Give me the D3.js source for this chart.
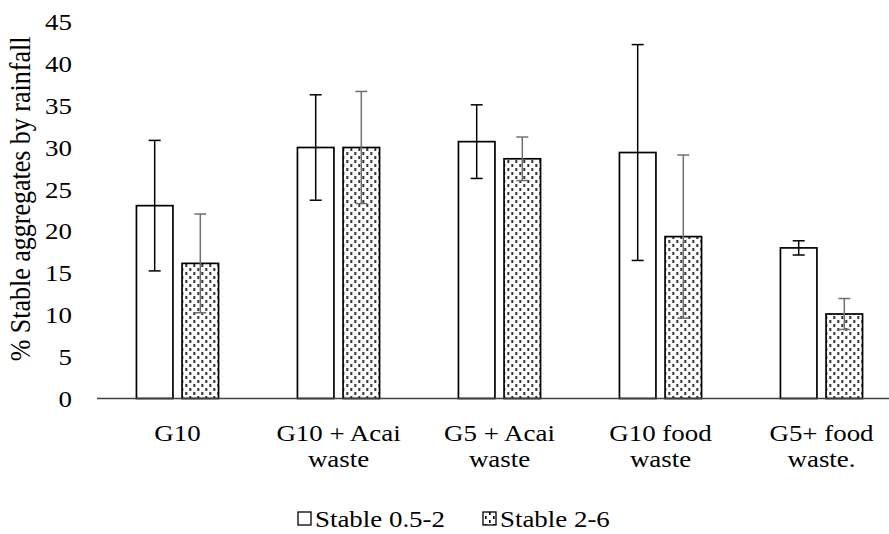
<!DOCTYPE html>
<html><head><meta charset="utf-8">
<script src="https://cdn.jsdelivr.net/npm/d3@7"></script>
<style>html,body{margin:0;padding:0;background:#fff;}svg{display:block;}
svg text{font-family:"Liberation Serif","Times New Roman",Times,Tinos,"DejaVu Serif","Noto Serif",serif !important;fill:#000;}</style>
</head><body>
<svg id="chart" width="889" height="534"></svg>
<script>
const categories = [["G10"], ["G10 + Acai", "waste"], ["G5 + Acai", "waste"], ["G10 food", "waste"], ["G5+ food", "waste."]];
const seriesNames = ["Stable 0.5-2", "Stable 2-6"];
const stable052 = [23.05, 30.0, 30.7, 29.4, 18.0];
const stable052Err = [7.8, 6.3, 4.4, 12.9, 0.85];
const stable26 = [16.15, 30.0, 28.65, 19.35, 10.1];
const stable26Err = [5.9, 6.7, 2.6, 9.75, 1.85];
const yTicks = [0, 5, 10, 15, 20, 25, 30, 35, 40, 45];

const svg = d3.select("#chart");
const defs = svg.append("defs");
const pat = defs.append("pattern").attr("id", "dots").attr("patternUnits", "userSpaceOnUse")
  .attr("width", 8).attr("height", 8);
pat.append("rect").attr("width", 8).attr("height", 8).attr("fill", "#fff");
pat.append("rect").attr("x", 1).attr("y", 0).attr("width", 1.6).attr("height", 3).attr("fill", "#000");
pat.append("rect").attr("x", 5).attr("y", 4).attr("width", 1.6).attr("height", 3).attr("fill", "#000");

const fills = ["#fff", "url(#dots)"];
const errColors = ["#000", "#707070"];

const catIdx = categories.map((c, i) => i);
const x0 = d3.scaleBand().domain(catIdx).range([97, 902]).paddingInner(0.49).paddingOuter(0.245);
const x1 = d3.scaleBand().domain([0, 1]).range([0, x0.bandwidth()]).paddingInner(0.2);
const y = d3.scaleLinear().domain([0, 45]).range([398.5, 22]);

const FS = 23;
const SX = 1.17;

// y axis labels
const yAxis = d3.axisLeft(y).tickValues(yTicks).tickSize(0).tickPadding(0);
const gy = svg.append("g").attr("transform", "translate(72,0)").call(yAxis);
gy.select(".domain").remove();
gy.selectAll(".tick text").attr("font-size", FS).attr("x", 0).attr("dy", "0.34em")
  .attr("transform", `scale(${SX},1)`);

// y title
svg.append("text").attr("transform", `translate(30,199) scale(${SX},1) rotate(-90)`).attr("text-anchor", "middle")
  .attr("font-size", 26).text("% Stable aggregates by rainfall");

const data = categories.map((c, i) => ({i, vals: [stable052[i], stable26[i]], errs: [stable052Err[i], stable26Err[i]]}));

const groups = svg.append("g").selectAll("g").data(data).join("g")
  .attr("transform", d => `translate(${x0(d.i)},0)`);

groups.selectAll("rect").data(d => d.vals.map((v, s) => ({v, s}))).join("rect")
  .attr("x", d => x1(d.s)).attr("width", x1.bandwidth())
  .attr("y", d => y(d.v)).attr("height", d => y(0) - y(d.v))
  .attr("fill", d => fills[d.s]).attr("stroke", "#000").attr("stroke-width", 1.7);

// x axis line
svg.append("line").attr("x1", 97).attr("x2", 889).attr("y1", y(0)).attr("y2", y(0))
  .attr("stroke", "#404040").attr("stroke-width", 1.3);

// error bars
const eb = groups.selectAll("g.err").data(d => d.vals.map((v, s) => ({v, s, e: d.errs[s]}))).join("g").attr("class", "err");
eb.append("line").attr("x1", d => x1(d.s) + x1.bandwidth() / 2).attr("x2", d => x1(d.s) + x1.bandwidth() / 2)
  .attr("y1", d => y(d.v + d.e)).attr("y2", d => y(d.v - d.e))
  .attr("stroke", d => errColors[d.s]).attr("stroke-width", 1.5);
[1, -1].forEach(sgn => {
  eb.append("line").attr("x1", d => x1(d.s) + x1.bandwidth() / 2 - 6).attr("x2", d => x1(d.s) + x1.bandwidth() / 2 + 6)
    .attr("y1", d => y(d.v + sgn * d.e)).attr("y2", d => y(d.v + sgn * d.e))
    .attr("stroke", d => errColors[d.s]).attr("stroke-width", 1.5);
});

// category labels
const xl = svg.append("g");
data.forEach(d => {
  const cx = x0(d.i) + x0.bandwidth() / 2;
  const t = xl.append("text").attr("transform", `translate(${cx},440.5) scale(${SX},1)`)
    .attr("text-anchor", "middle").attr("font-size", FS);
  categories[d.i].forEach((line, k) => {
    t.append("tspan").attr("x", 0).attr("y", k * 26.5).text(line);
  });
});

// legend
const legend = svg.append("g");
const legX = [298, 483];
seriesNames.forEach((name, s) => {
  legend.append("rect").attr("x", legX[s]).attr("y", 512).attr("width", 13).attr("height", 13)
    .attr("fill", fills[s]).attr("stroke", "#000").attr("stroke-width", 1.3);
  legend.append("text").attr("transform", `translate(${legX[s] + 17},527) scale(${SX},1)`)
    .attr("font-size", FS).text(name);
});
</script>
</body></html>
